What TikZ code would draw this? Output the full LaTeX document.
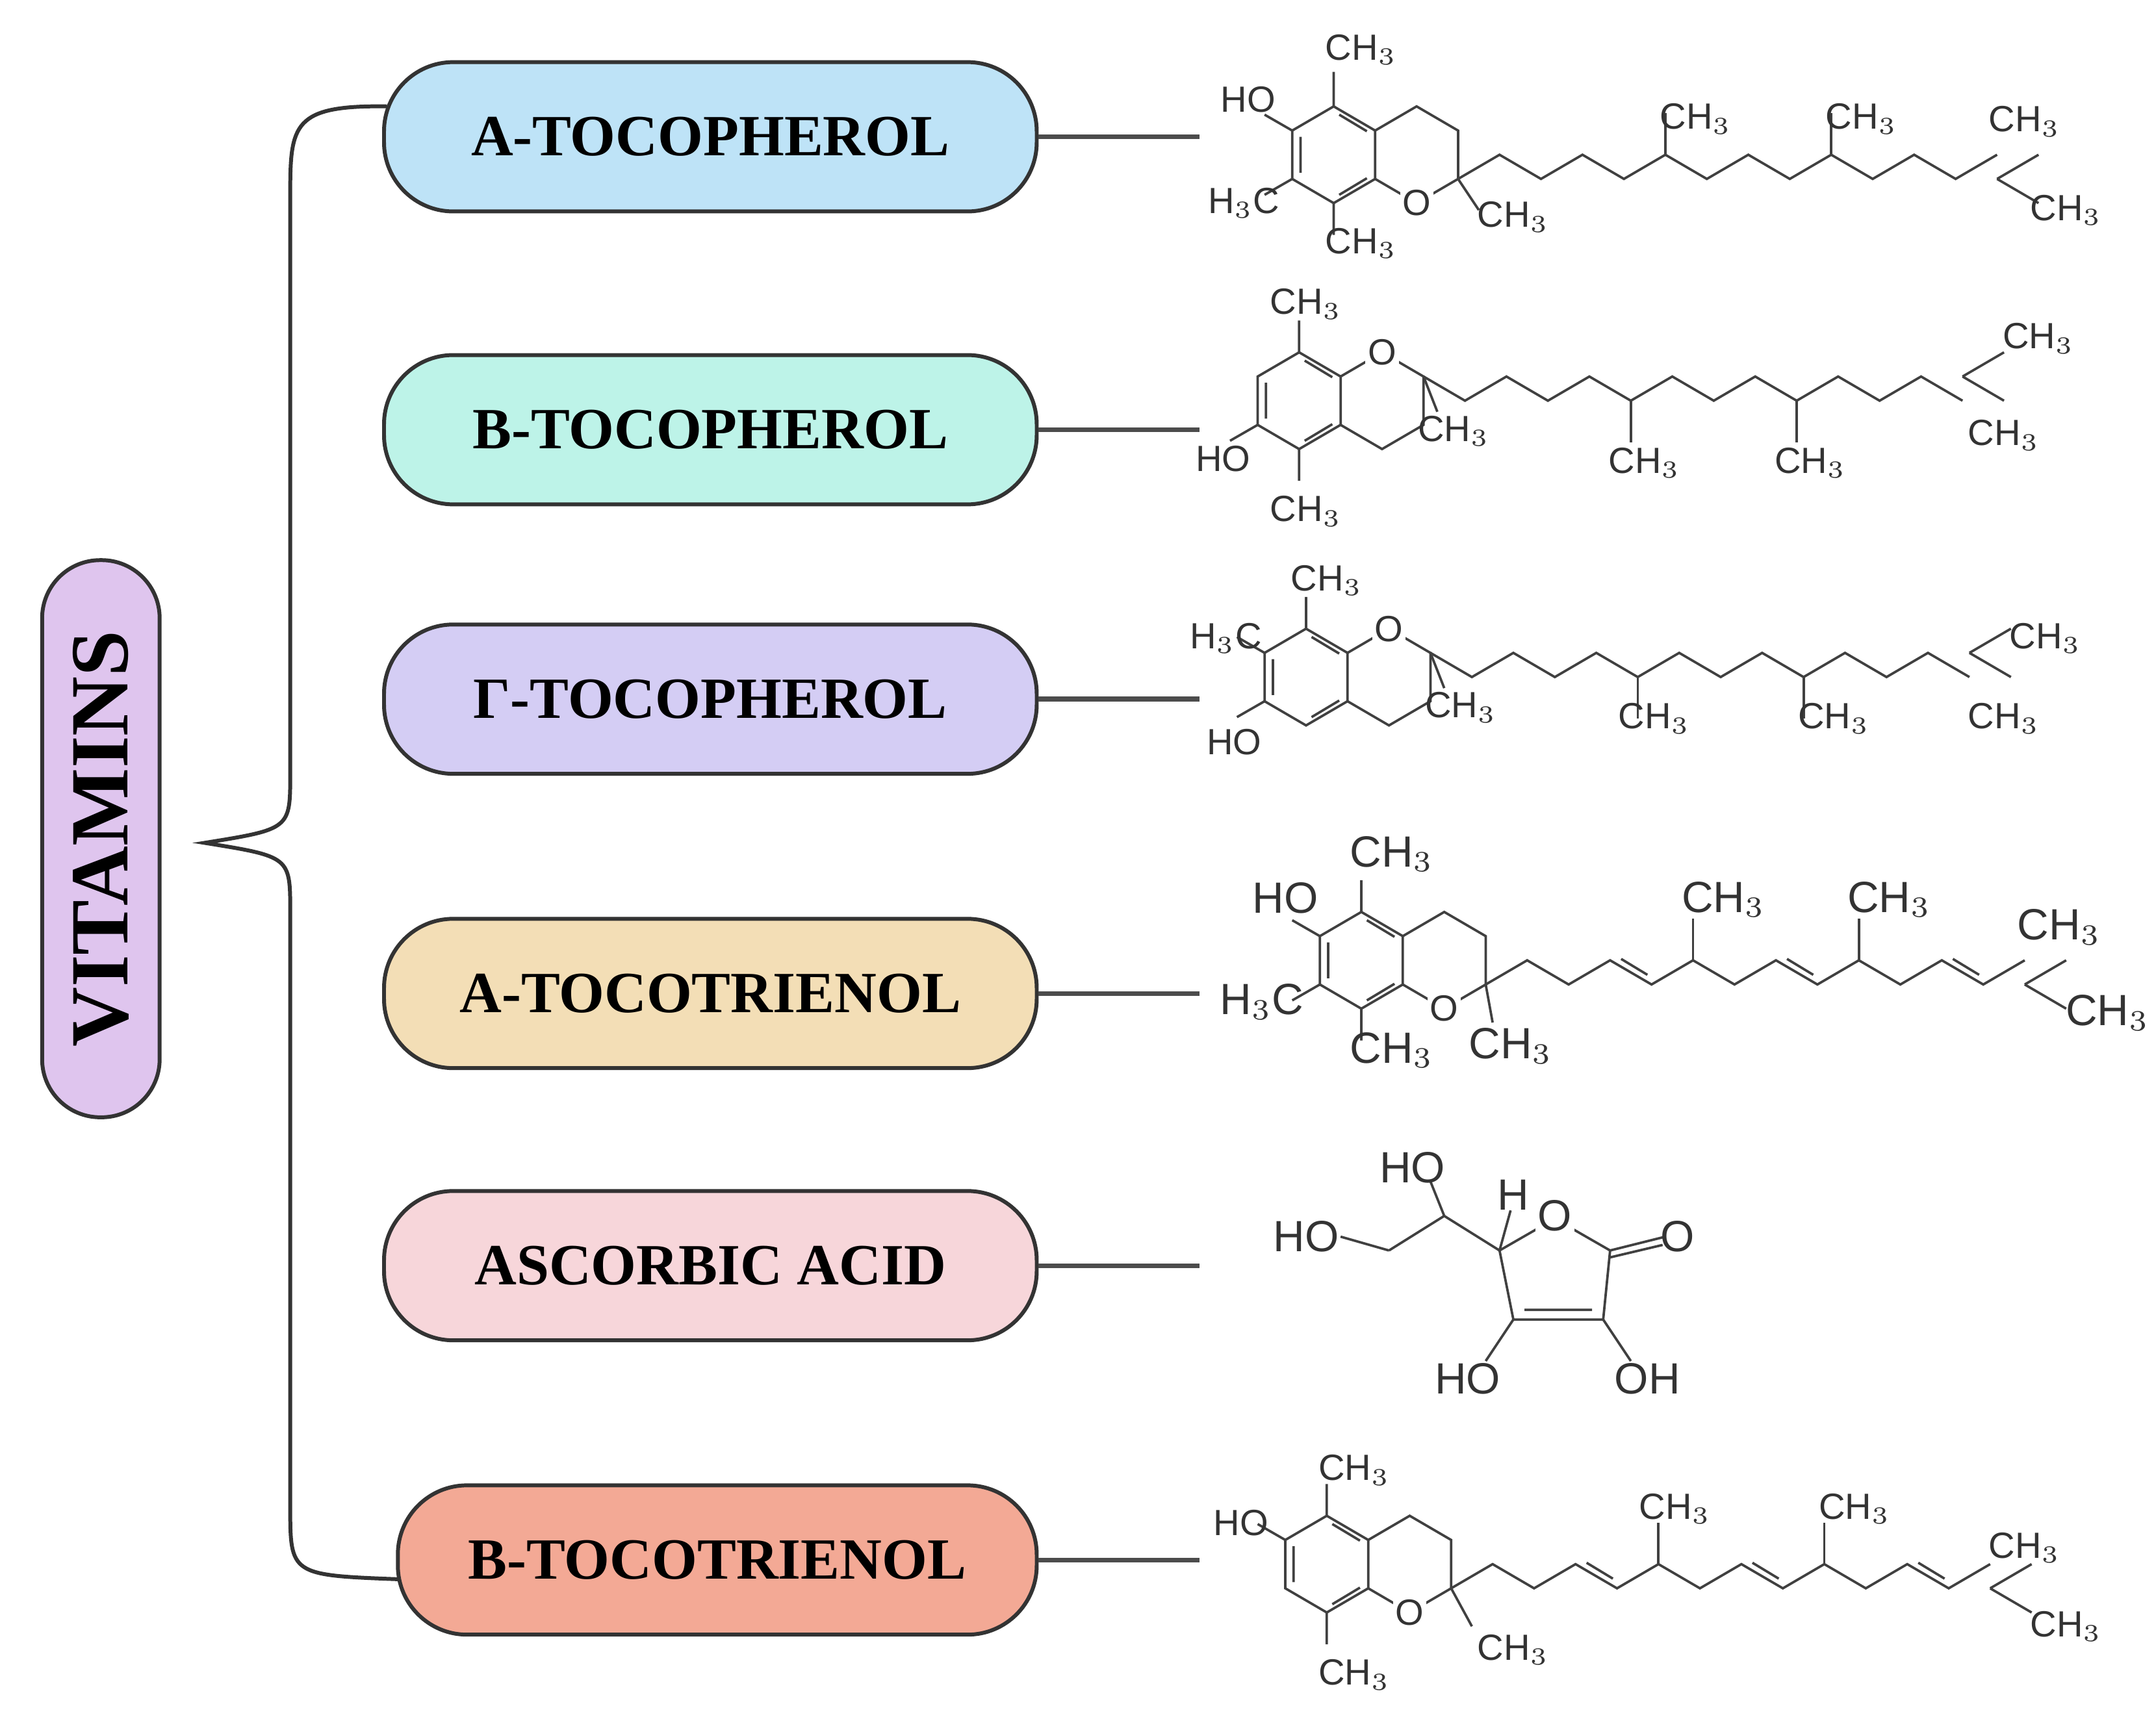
\documentclass[tikz,border=0pt]{standalone}
\usepackage{fontspec}
\setmainfont{Liberation Serif}
\newfontfamily\chemf{Liberation Sans}
\definecolor{cA}{HTML}{BEE3F7}
\definecolor{cB}{HTML}{BDF3E8}
\definecolor{cC}{HTML}{D4CDF4}
\definecolor{cD}{HTML}{F3DEB6}
\definecolor{cE}{HTML}{F7D6DA}
\definecolor{cF}{HTML}{F3A995}
\definecolor{cV}{HTML}{DFC5EE}
\begin{document}
\begin{tikzpicture}[x=0.01cm,y=-0.01cm,
  box/.style={draw=black!80,line width=0.8pt,rounded corners=0.5cm,minimum width=4.72cm,minimum height=1.08cm,font=\fontsize{12}{13}\selectfont\bfseries},
  lnk/.style={draw=black!70,line width=1pt},
  bd/.style={line width=0.5pt,black!75},
  lb/.style={font=\chemf\fontsize{7.5}{8}\selectfont,text=black!80,inner sep=0.5pt},
  lg/.style={font=\chemf\fontsize{9}{9}\selectfont,text=black!80,inner sep=0.5pt}]
\useasboundingbox (0,0) rectangle (1560,1252);
\newcommand\rings{%
 \draw[bd] (30,-17.5)--(0,-35)--(-30,-17.5)--(-30,17.5)--(0,35)--(30,17.5)--cycle;
 \draw[bd] (30,-17.5)--(60,-35)--(90,-17.5)--(90,17.5)--(60,35)--(30,17.5);
 \draw[bd] (-24,-13)--(-24,13) (4,29)--(24,17) (4,-29)--(24,-17);}
\newcommand\chain[1]{\draw[bd] (90,17.5) \foreach \k in {1,...,#1}{ -- ({90+30*\k},{17.5*(1-mod(\k,2))}) };}
\newcommand\br[1]{\draw[bd] ({90+30*#1},0)--({90+30*#1},-30);}
\newcommand\dbl[1]{\draw[bd] ({90+30*(#1-1)+8},{-1}) -- ({90+30*#1-3},{10.5});}
% VITAMINS
\node[draw=black!80,line width=0.8pt,fill=cV,rounded corners=0.42cm,minimum width=4.03cm,minimum height=0.85cm,rotate=90,font=\fontsize{17}{18}\selectfont\bfseries] (vit) at (73,607) {VITAMINS};
\node[box,fill=cA] (b1) at (514,99) {A-TOCOPHEROL};
\node[box,fill=cB] (b2) at (514,311) {B-TOCOPHEROL};
\node[box,fill=cC] (b3) at (514,506) {Γ-TOCOPHEROL};
\node[box,fill=cD] (b4) at (514,719) {A-TOCOTRIENOL};
\node[box,fill=cE] (b5) at (514,916) {ASCORBIC ACID};
\node[box,fill=cF,minimum width=4.62cm] (b6) at (519,1129) {B-TOCOTRIENOL};
\coordinate (brt) at (148,610);
\coordinate (xr) at (868,0);
\coordinate (bt) at (280,77);
\coordinate (bb) at (290,1143);
\draw[black!80,line width=0.8pt] (bt) .. controls (212,76) and (210,90) .. (210,140) -- (210,560) .. controls (210,600) .. (brt) .. controls (210,620) .. (210,660) -- (210,1090) .. controls (210,1140) .. (bb);
\foreach \i in {1,...,6}{\coordinate (e\i) at (b\i.east -| xr); \draw[lnk] (b\i.east) -- (e\i);}
% row1
\begin{scope}[shift={(965,112)}]
 \rings \chain{13} \br{5}\br{9}
 \draw[bd] (480,17.5)--(510,0) (480,17.5)--(510,35) (-30,-17.5)--(-50,-29) (-30,17.5)--(-50,29) (0,-35)--(0,-60) (0,35)--(0,58) (90,17.5)--(105,40);
 \node[lb,fill=white] at (60,35) {O};
 \node[lb] at (-62,-40) {HO}; \node[lb] at (-65,35) {H$_3$C}; \node[lb] at (20,-76) {CH$_3$}; \node[lb] at (20,64) {CH$_3$};
 \node[lb] at (130,45) {CH$_3$}; \node[lb] at (262,-26) {CH$_3$}; \node[lb] at (382,-26) {CH$_3$};
 \node[lb] at (500,-24) {CH$_3$}; \node[lb] at (530,40) {CH$_3$};
\end{scope}
% row2
\begin{scope}[shift={(940,290)},yscale=-1]
 \rings \chain{13} \br{5}\br{9}
 \draw[bd] (480,17.5)--(510,0) (480,17.5)--(510,35) (-30,-17.5)--(-50,-29) (0,-35)--(0,-58) (0,35)--(0,58) (90,17.5)--(100,-8);
 \node[lb,fill=white] at (60,35) {O};
 \node[lb] at (-55,-42) {HO}; \node[lb] at (5,-80) {CH$_3$}; \node[lb] at (5,70) {CH$_3$};
 \node[lb] at (112,-22) {CH$_3$}; \node[lb] at (250,-45) {CH$_3$}; \node[lb] at (370,-45) {CH$_3$};
 \node[lb] at (535,45) {CH$_3$}; \node[lb] at (510,-25) {CH$_3$};
\end{scope}
% row3
\begin{scope}[shift={(945,490)},yscale=-1]
 \rings \chain{13} \br{5}\br{9}
 \draw[bd] (480,17.5)--(510,0) (480,17.5)--(510,35) (-30,-17.5)--(-50,-29) (-30,17.5)--(-50,29) (0,35)--(0,58) (90,17.5)--(100,-8);
 \node[lb,fill=white] at (60,35) {O};
 \node[lb] at (-52,-47) {HO}; \node[lb] at (-58,28) {H$_3$C}; \node[lb] at (15,70) {CH$_3$};
 \node[lb] at (112,-22) {CH$_3$}; \node[lb] at (252,-30) {CH$_3$}; \node[lb] at (382,-30) {CH$_3$};
 \node[lb] at (535,28) {CH$_3$}; \node[lb] at (505,-30) {CH$_3$};
\end{scope}
% row4
\begin{scope}[shift={(985,695)}]
 \rings \chain{13} \br{5}\br{9} \dbl{4}\dbl{8}\dbl{12}
 \draw[bd] (480,17.5)--(510,0) (480,17.5)--(510,35) (-30,-17.5)--(-50,-29) (-30,17.5)--(-50,29) (0,-35)--(0,-58) (0,35)--(0,58) (90,17.5)--(95,45);
 \node[lb,fill=white] at (60,35) {O};
 \node[lg] at (-55,-45) {HO}; \node[lg] at (-72,30) {H$_3$C}; \node[lg] at (22,-77) {CH$_3$}; \node[lg] at (22,65) {CH$_3$};
 \node[lg] at (108,62) {CH$_3$}; \node[lg] at (262,-44) {CH$_3$}; \node[lg] at (382,-44) {CH$_3$};
 \node[lg] at (505,-24) {CH$_3$}; \node[lg] at (540,38) {CH$_3$};
\end{scope}
% row6
\begin{scope}[shift={(960,1132)}]
 \rings \chain{13} \br{5}\br{9} \dbl{4}\dbl{8}\dbl{12}
 \draw[bd] (480,17.5)--(510,0) (480,17.5)--(510,35) (-30,-17.5)--(-50,-29) (0,-35)--(0,-58) (0,35)--(0,58) (90,17.5)--(105,45);
 \node[lb,fill=white] at (60,35) {O};
 \node[lb] at (-62,-30) {HO}; \node[lb] at (20,-68) {CH$_3$}; \node[lb] at (20,80) {CH$_3$};
 \node[lb] at (135,62) {CH$_3$}; \node[lb] at (252,-40) {CH$_3$}; \node[lb] at (382,-40) {CH$_3$};
 \node[lb] at (505,-12) {CH$_3$}; \node[lb] at (535,45) {CH$_3$};
\end{scope}
% ascorbic acid
\draw[bd] (1125,882)--(1165,905)--(1160,955)--(1095,955)--(1085,905)--cycle;
\draw[bd] (1152,948)--(1103,948) (1165,905)--(1205,895) (1165,910)--(1203,901) (1160,955)--(1180,985) (1095,955)--(1075,985) (1085,905)--(1093,876) (1085,905)--(1045,880) (1045,880)--(1035,855) (1045,880)--(1005,905) (1005,905)--(970,895);
\node[lg,fill=white] at (1125,880) {O};
\node[lg] at (1214,895) {O};
\node[lg] at (1192,998) {OH};
\node[lg] at (1062,998) {HO};
\node[lg] at (1095,865) {H};
\node[lg] at (1022,845) {HO};
\node[lg] at (945,895) {HO};
\end{tikzpicture}
\end{document}
